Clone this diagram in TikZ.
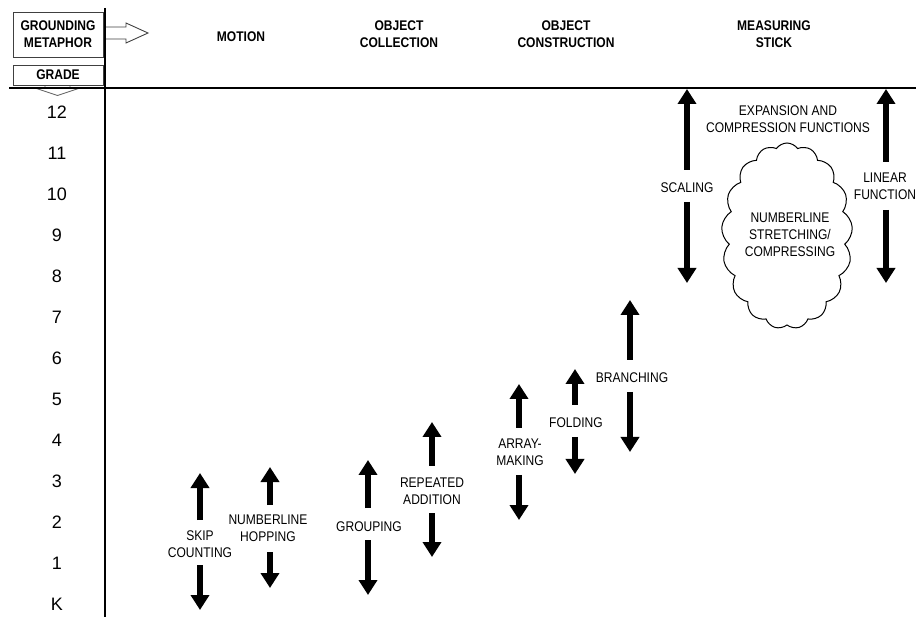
\documentclass[tikz,border=0pt]{standalone}
\usepackage{fontspec}
\setmainfont{Liberation Sans}
\newfontfamily\narrowsans[FakeStretch=0.86]{Liberation Sans}
\usetikzlibrary{arrows.meta,shapes.symbols}
\begin{document}
\begin{tikzpicture}[x=1pt,y=-1pt,
  lab/.style={font=\narrowsans\fontsize{14}{16.8}\selectfont, align=center, inner sep=0pt},
  head/.style={font=\narrowsans\fontsize{14}{17}\selectfont\bfseries, align=center, inner sep=0pt},
  grade/.style={font=\fontsize{18}{20}\selectfont, inner sep=0pt},
  bigarrow/.style={line width=6.2pt, -{Triangle[width=18pt,length=15pt]}},
  axis/.style={line width=2.8pt},
  tagbox/.style={draw=black!75, line width=0.9pt, fill=white}]
\useasboundingbox (0,0) rectangle (916,617);
% axes
\coordinate (vtop) at (105,8);
\coordinate (vbot) at (105,617);
\coordinate (hl) at (9,88);
\coordinate (hr) at (916,88);
% grade arrow (behind line)
\filldraw[fill=white, draw=black!60, line width=0.8pt]
  (45,84) -- (45,88) -- (35,88) -- (57.5,95.5) -- (80,88) -- (70,88) -- (70,84) -- cycle;
\draw[axis] (vtop) -- (vbot);
\draw[axis] (hl) -- (hr);
% header boxes
\node[tagbox, head, minimum width=90pt, minimum height=45pt] (gm) at (58,34.5) {GROUNDING\\METAPHOR};
\node[tagbox, head, minimum width=90pt, minimum height=20pt] (gb) at (58,75) {GRADE};
\filldraw[fill=white, draw=black!75, line width=0.9pt]
  (106,27) -- (126,27) -- (126,23) -- (148,33) -- (126,43) -- (126,39) -- (106,39);
% column headers
\node[head] (motion) at (241,37) {MOTION};
\node[head] (coll) at (399,34.5) {OBJECT\\COLLECTION};
\node[head] (cons) at (566,34.5) {OBJECT\\CONSTRUCTION};
\node[head] (meas) at (774,34.5) {MEASURING\\STICK};
% grade numbers
\foreach \g/\t in {12/12,11/11,10/10,9/9,8/8,7/7,6/6,5/5,4/4,3/3,2/2,1/1,0/K}
  \node[grade] (g\g) at (57,{112+41*(12-\g)}) {\t};
% labels
\node[lab] (skip) at (200,544) {SKIP\\COUNTING};
\node[lab] (hop) at (268,528) {NUMBERLINE\\HOPPING};
\node[lab] (grp) at (369,527) {GROUPING};
\node[lab] (rep) at (432,491) {REPEATED\\ADDITION};
\node[lab] (arr) at (520,452.5) {ARRAY-\\MAKING};
\node[lab] (fold) at (576,423) {FOLDING};
\node[lab] (branch) at (632,378) {BRANCHING};
\node[lab] (scal) at (687,188) {SCALING};
\node[lab] (lin) at (885,186.5) {LINEAR\\FUNCTION};
\node[lab] (exp) at (788,119.5) {EXPANSION AND\\COMPRESSION FUNCTIONS};
\node[cloud, draw, line width=1pt, cloud puffs=17, cloud puff arc=110, cloud ignores aspect,
  minimum width=131pt, minimum height=186pt, inner sep=0pt] (cloud) at (787,236) {};
\node[lab] (cloudtxt) at (790,235) {NUMBERLINE\\STRETCHING/\\COMPRESSING};
% arrow end points
\foreach \n/\x/\ut/\ub/\dt/\db in {
  sc/200/473/520/565/610,
  nh/270/467/505/552/588,
  gr/368/460/508/540/595,
  ra/432/422/466/513/557,
  am/519/384/428/475/520,
  fo/575/369/405/437/474,
  br/630/300/360/392/452,
  sl/687/89/170/202/283,
  lf/886/89/162/210/283}{
  \coordinate (\n-ut) at (\x,\ut);
  \coordinate (\n-ub) at (\x,\ub);
  \coordinate (\n-dt) at (\x,\dt);
  \coordinate (\n-db) at (\x,\db);
  \draw[bigarrow] (\n-ub) -- (\n-ut);
  \draw[bigarrow] (\n-dt) -- (\n-db);
}
\end{tikzpicture}
\end{document}
